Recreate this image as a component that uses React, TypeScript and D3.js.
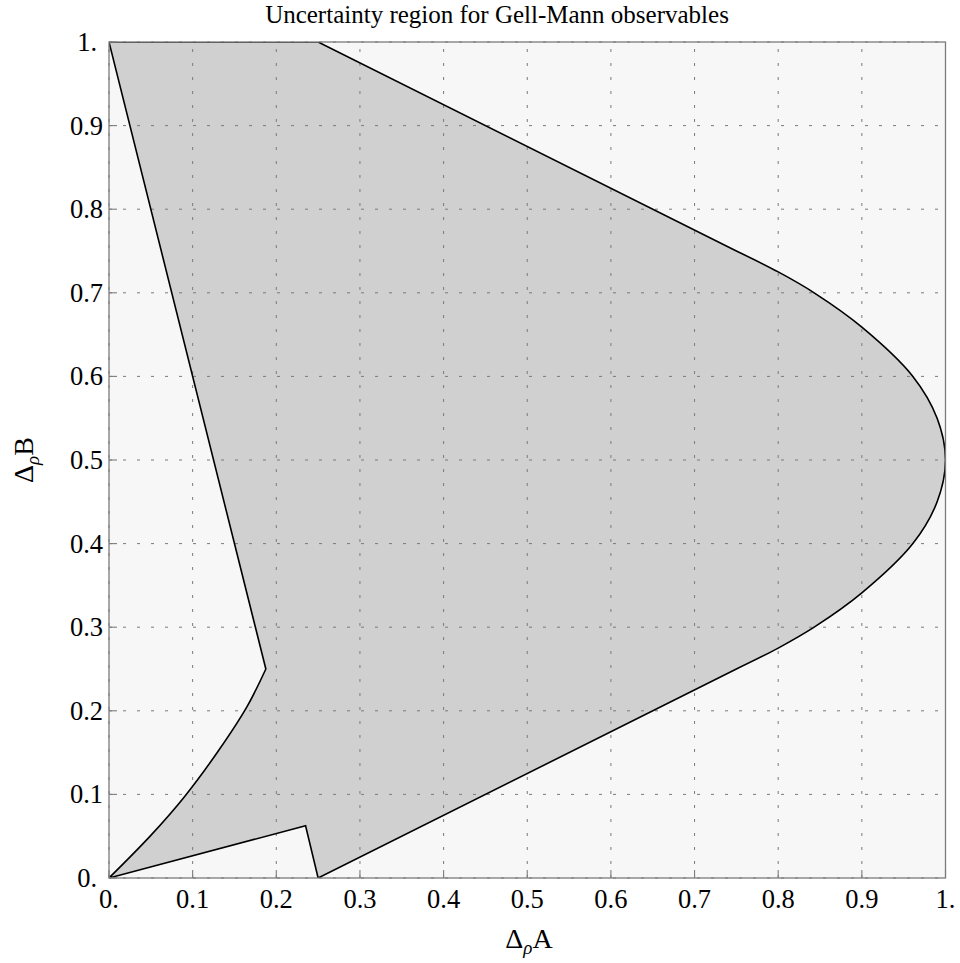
import React from "react";
import * as d3 from "d3";

// Axis ticks (both axes share the same 0..1 range)
const tickValues = [0, 0.1, 0.2, 0.3, 0.4, 0.5, 0.6, 0.7, 0.8, 0.9, 1];
const tickLabels = ["0.", "0.1", "0.2", "0.3", "0.4", "0.5", "0.6", "0.7", "0.8", "0.9", "1."];

// Boundary of the uncertainty region, traced counter-clockwise from (0, 1)
const topEdge: [number, number][] = [[0, 1], [0.25, 1]];
const upperLine: [number, number][] = [[0.25, 1], [0.75, 0.75]];
const rightArc: [number, number][] = [
  [0.75, 0.75], [0.8, 0.725], [0.843, 0.7], [0.9, 0.659], [0.961, 0.6], [0.99, 0.55],
  [1, 0.5], [0.99, 0.45], [0.961, 0.4], [0.9, 0.341], [0.843, 0.3], [0.8, 0.275], [0.75, 0.25],
];
const lowerLine: [number, number][] = [[0.75, 0.25], [0.25, 0]];
const notch: [number, number][] = [[0.25, 0], [0.235, 0.0625], [0, 0]];
const leftArc: [number, number][] = [
  [0, 0], [0.05, 0.051], [0.09, 0.097], [0.13, 0.151], [0.165, 0.205], [0.1875, 0.25],
];
const leftLine: [number, number][] = [[0.1875, 0.25], [0, 1]];

const W = 960;
const H = 963;
const L = 109;
const R = 945.5;
const T = 42;
const B = 878;

const FONT = "'Liberation Serif', 'DejaVu Serif', serif";

export default function App() {
  const x = d3.scaleLinear().domain([0, 1]).range([L, R]);
  const y = d3.scaleLinear().domain([0, 1]).range([B, T]);

  const segments: { pts: [number, number][]; curve: d3.CurveFactory }[] = [
    { pts: topEdge, curve: d3.curveLinear },
    { pts: upperLine, curve: d3.curveLinear },
    { pts: rightArc, curve: d3.curveCatmullRom.alpha(0.5) },
    { pts: lowerLine, curve: d3.curveLinear },
    { pts: notch, curve: d3.curveLinear },
    { pts: leftArc, curve: d3.curveCatmullRom.alpha(0.5) },
    { pts: leftLine, curve: d3.curveLinear },
  ];

  const regionPath =
    segments
      .map((s, i) => {
        const d = d3
          .line<[number, number]>()
          .x((p) => x(p[0]))
          .y((p) => y(p[1]))
          .curve(s.curve)(s.pts) as string;
        return i === 0 ? d : "L" + d.slice(1);
      })
      .join("") + "Z";

  const gridColor = "#7a7a7a";
  const frameColor = "#7c7c7c";

  return (
    <svg
      width={W}
      height={H}
      style={{ position: "absolute", left: 0, top: 0, background: "#ffffff" }}
    >
      <defs>
        <clipPath id="plotClip">
          <rect x={L} y={T} width={R - L} height={B - T} />
        </clipPath>
      </defs>

      <rect x={L} y={T} width={R - L} height={B - T} fill="#f7f7f7" />

      <path d={regionPath} fill="#d0d0d0" stroke="none" clipPath="url(#plotClip)" />

      {/* dotted grid */}
      <g stroke={gridColor} strokeWidth={1} strokeDasharray="3,11">
        {tickValues.map((v) => (
          <line key={"gv" + v} x1={x(v)} x2={x(v)} y1={B} y2={T} />
        ))}
        {tickValues.map((v) => (
          <line key={"gh" + v} x1={L} x2={R} y1={y(v)} y2={y(v)} />
        ))}
      </g>

      <path
        d={regionPath}
        fill="none"
        stroke="#000"
        strokeWidth={1.6}
        strokeLinejoin="miter"
        clipPath="url(#plotClip)"
      />

      {/* frame and ticks */}
      <rect x={L} y={T} width={R - L} height={B - T} fill="none" stroke={frameColor} strokeWidth={1.3} />
      <g stroke={frameColor} strokeWidth={1.1}>
        {tickValues.map((v) => (
          <line key={"tx" + v} x1={x(v)} x2={x(v)} y1={B} y2={B - 8} />
        ))}
        {tickValues.map((v) => (
          <line key={"ty" + v} x1={L} x2={L + 8} y1={y(v)} y2={y(v)} />
        ))}
      </g>

      {/* tick labels */}
      <g fontFamily={FONT} fontSize={26.5} fill="#000">
        {tickValues.map((v, i) => (
          <text key={"lx" + v} x={x(v)} y={908} textAnchor="middle">
            {tickLabels[i]}
          </text>
        ))}
        {tickValues.map((v, i) => (
          <text
            key={"ly" + v}
            x={tickLabels[i].endsWith(".") ? 97 : 103}
            y={y(v) + 9}
            textAnchor="end"
          >
            {tickLabels[i]}
          </text>
        ))}
      </g>

      {/* title */}
      <text x={497} y={23} textAnchor="middle" fontFamily={FONT} fontSize={25} fill="#000">
        Uncertainty region for Gell-Mann observables
      </text>

      {/* axis labels */}
      <text x={529} y={948} textAnchor="middle" fontFamily={FONT} fontSize={28} fill="#000">
        Δ
        <tspan dy={6} fontSize={19} fontStyle="italic">
          ρ
        </tspan>
        <tspan dy={-6}>A</tspan>
      </text>
      <text
        transform={`translate(33, ${(T + B) / 2}) rotate(-90)`}
        textAnchor="middle"
        fontFamily={FONT}
        fontSize={28}
        fill="#000"
      >
        Δ
        <tspan dy={6} fontSize={19} fontStyle="italic">
          ρ
        </tspan>
        <tspan dy={-6}>B</tspan>
      </text>
    </svg>
  );
}
